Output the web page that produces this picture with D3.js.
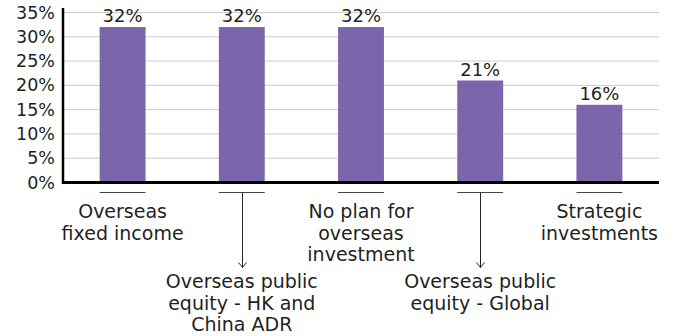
<!DOCTYPE html>
<html>
<head>
<meta charset="utf-8">
<script src="https://cdn.jsdelivr.net/npm/d3@7/dist/d3.min.js"></script>
<style>
  html, body { margin: 0; padding: 0; background: #fff; }
  svg text { font-family: "DejaVu Sans", sans-serif; fill: #1f1f1f; }
</style>
</head>
<body>
<svg id="chart" width="674" height="336"></svg>
<script>
// Share of respondents by planned overseas investment type
const categories = [
  "Overseas fixed income",
  "Overseas public equity - HK and China ADR",
  "No plan for overseas investment",
  "Overseas public equity - Global",
  "Strategic investments"
];
const labelLines = [
  ["Overseas", "fixed income"],
  ["Overseas public", "equity - HK and", "China ADR"],
  ["No plan for", "overseas", "investment"],
  ["Overseas public", "equity - Global"],
  ["Strategic", "investments"]
];
// labels pushed below with a pointer arrow (staggered)
const dropped = [false, true, false, true, false];
const values = [32, 32, 32, 21, 16];
const yTicks = [0, 5, 10, 15, 20, 25, 30, 35];

const svg = d3.select("#chart");
const margin = { left: 63, right: 15, top: 12.5, bottom: 153.5 };
const W = 674, H = 336;

const x = d3.scaleBand()
  .domain(categories)
  .range([margin.left, W - margin.right])
  .padding(0);

const y = d3.scaleLinear()
  .domain([0, 35])
  .range([H - margin.bottom, margin.top]);

const barW = x.bandwidth() * 0.385;
const cx = d => x(d) + x.bandwidth() / 2;

// gridlines
svg.append("g")
  .selectAll("line")
  .data(yTicks.filter(t => t > 0))
  .join("line")
  .attr("x1", margin.left)
  .attr("x2", W - margin.right)
  .attr("y1", d => y(d))
  .attr("y2", d => y(d))
  .attr("stroke", "#cccccc")
  .attr("stroke-width", 1);

// y axis
const yAxis = d3.axisLeft(y)
  .tickValues(yTicks)
  .tickFormat(d => d + "%")
  .tickSize(0)
  .tickPadding(8);
const gy = svg.append("g")
  .attr("transform", `translate(${margin.left},0)`)
  .call(yAxis);
gy.select(".domain").remove();
gy.selectAll("text")
  .attr("font-size", 17.5)
  .attr("fill", "#1f1f1f")
  .style("font-family", "'DejaVu Sans', sans-serif");

// bars
svg.append("g")
  .selectAll("rect")
  .data(categories)
  .join("rect")
  .attr("x", d => cx(d) - barW / 2)
  .attr("width", barW)
  .attr("y", (d, i) => y(values[i]))
  .attr("height", (d, i) => y(0) - y(values[i]))
  .attr("fill", "#7b65ab");

// value labels
svg.append("g")
  .selectAll("text")
  .data(categories)
  .join("text")
  .attr("x", d => cx(d))
  .attr("y", (d, i) => y(values[i]) - 5)
  .attr("text-anchor", "middle")
  .attr("font-size", 18)
  .text((d, i) => values[i] + "%");

// axis lines
svg.append("line")
  .attr("x1", margin.left).attr("x2", margin.left)
  .attr("y1", 8).attr("y2", y(0) + 1.5)
  .attr("stroke", "#000").attr("stroke-width", 2.5);
svg.append("line")
  .attr("x1", margin.left - 1).attr("x2", W - margin.right)
  .attr("y1", y(0)).attr("y2", y(0))
  .attr("stroke", "#000").attr("stroke-width", 3);

// category markers and labels
const tickY = y(0) + 10;
const cat = svg.append("g")
  .selectAll("g")
  .data(categories)
  .join("g");

cat.append("line")
  .attr("x1", d => cx(d) - barW / 2)
  .attr("x2", d => cx(d) + barW / 2)
  .attr("y1", tickY).attr("y2", tickY)
  .attr("stroke", "#444").attr("stroke-width", 1);

const arrowEnd = tickY + 75;
cat.filter((d, i) => dropped[i]).each(function(d) {
  const g = d3.select(this);
  const c = Math.round(cx(d)) + 0.5;
  g.append("line")
    .attr("x1", c).attr("x2", c)
    .attr("y1", tickY).attr("y2", arrowEnd)
    .attr("stroke", "#222").attr("stroke-width", 1);
  g.append("path")
    .attr("d", `M${c - 4},${arrowEnd - 5} L${c},${arrowEnd} L${c + 4},${arrowEnd - 5}`)
    .attr("fill", "none")
    .attr("stroke", "#222").attr("stroke-width", 1);
});

cat.each(function(d, i) {
  const top = dropped[i] ? 288 : 218;
  const t = d3.select(this).append("text")
    .attr("text-anchor", "middle")
    .attr("font-size", 19);
  labelLines[i].forEach((ln, k) => {
    t.append("tspan")
      .attr("x", cx(d))
      .attr("y", top + k * 21.5)
      .text(ln);
  });
});
</script>
</body>
</html>
